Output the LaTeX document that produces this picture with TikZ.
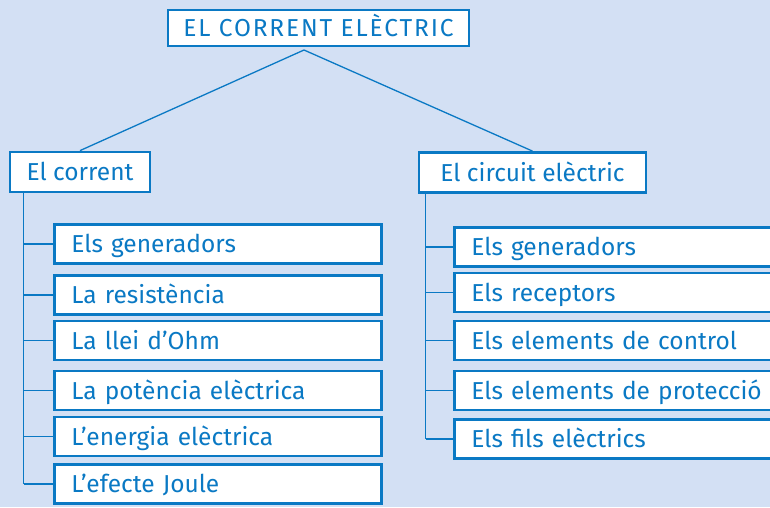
\documentclass[tikz,border=0pt]{standalone}
\usepackage{fontspec}
\setmainfont{Fira Sans}
\usetikzlibrary{positioning}
\definecolor{bgblue}{HTML}{D3E0F4}
\definecolor{mapblue}{HTML}{0A79C4}

\tikzset{
  box/.style={draw=mapblue, line width=2.8pt, fill=white, text=mapblue,
              font=\fontsize{24.5}{29}\selectfont, inner ysep=0pt,
              text height=17pt, text depth=0pt},
  headbox/.style={box, minimum height=40pt, inner xsep=0pt},
  itembox/.style={box, anchor=west, minimum height=39pt, align=left,
                  inner xsep=17pt},
  link/.style={draw=mapblue, line width=1.3pt}
}

\begin{document}
\begin{tikzpicture}[x=1pt, y=-1pt]
  % Background
  \fill[bgblue] (0,0) rectangle (770,507);
  \useasboundingbox (0,0) rectangle (770,507);
  \clip (0,0) rectangle (770,507);

  % Title
  \node[headbox, minimum width=301pt, minimum height=36pt] (title) at (318.5,28)
    {\addfontfeature{LetterSpace=7.5}EL CORRENT ELÈCTRIC};
  \coordinate (apex) at (304,50);

  % Second level
  \node[headbox, minimum width=140pt] (corrent) at (80,172) {El corrent};
  \node[headbox, minimum width=227pt] (circuit) at (532.5,172.5) {El circuit elèctric};
  \draw[link] (corrent.north) -- (apex) -- (circuit.north);

  % El corrent
  \coordinate (trunkL) at ([xshift=15pt]corrent.south west);
  \foreach \y/\t [count=\i] in {244/Els generadors, 295/La resistència,
      340.5/La llei d’Ohm, 390.5/La potència elèctrica,
      436.5/L’energia elèctrica, 484/L’efecte Joule} {
    \node[itembox, text width=293pt] (cor\i) at (53,\y) {\t};
    \draw[link] (cor\i.west) -- (cor\i.west -| trunkL);
  }
  \draw[link] (trunkL) -- (cor6.west -| trunkL);

  % El circuit elèctric
  \coordinate (trunkR) at ([xshift=8pt]circuit.south west);
  \foreach \y/\t [count=\i] in {247/Els generadors, 292.5/Els receptors,
      340.5/Els elements de control, 390.5/Els elements de protecció,
      439/Els fils elèctrics} {
    \node[itembox, text width=330pt] (cir\i) at (453,\y) {\t};
    \draw[link] (cir\i.west) -- (cir\i.west -| trunkR);
  }
  \draw[link] (trunkR) -- (cir5.west -| trunkR);
\end{tikzpicture}
\end{document}
